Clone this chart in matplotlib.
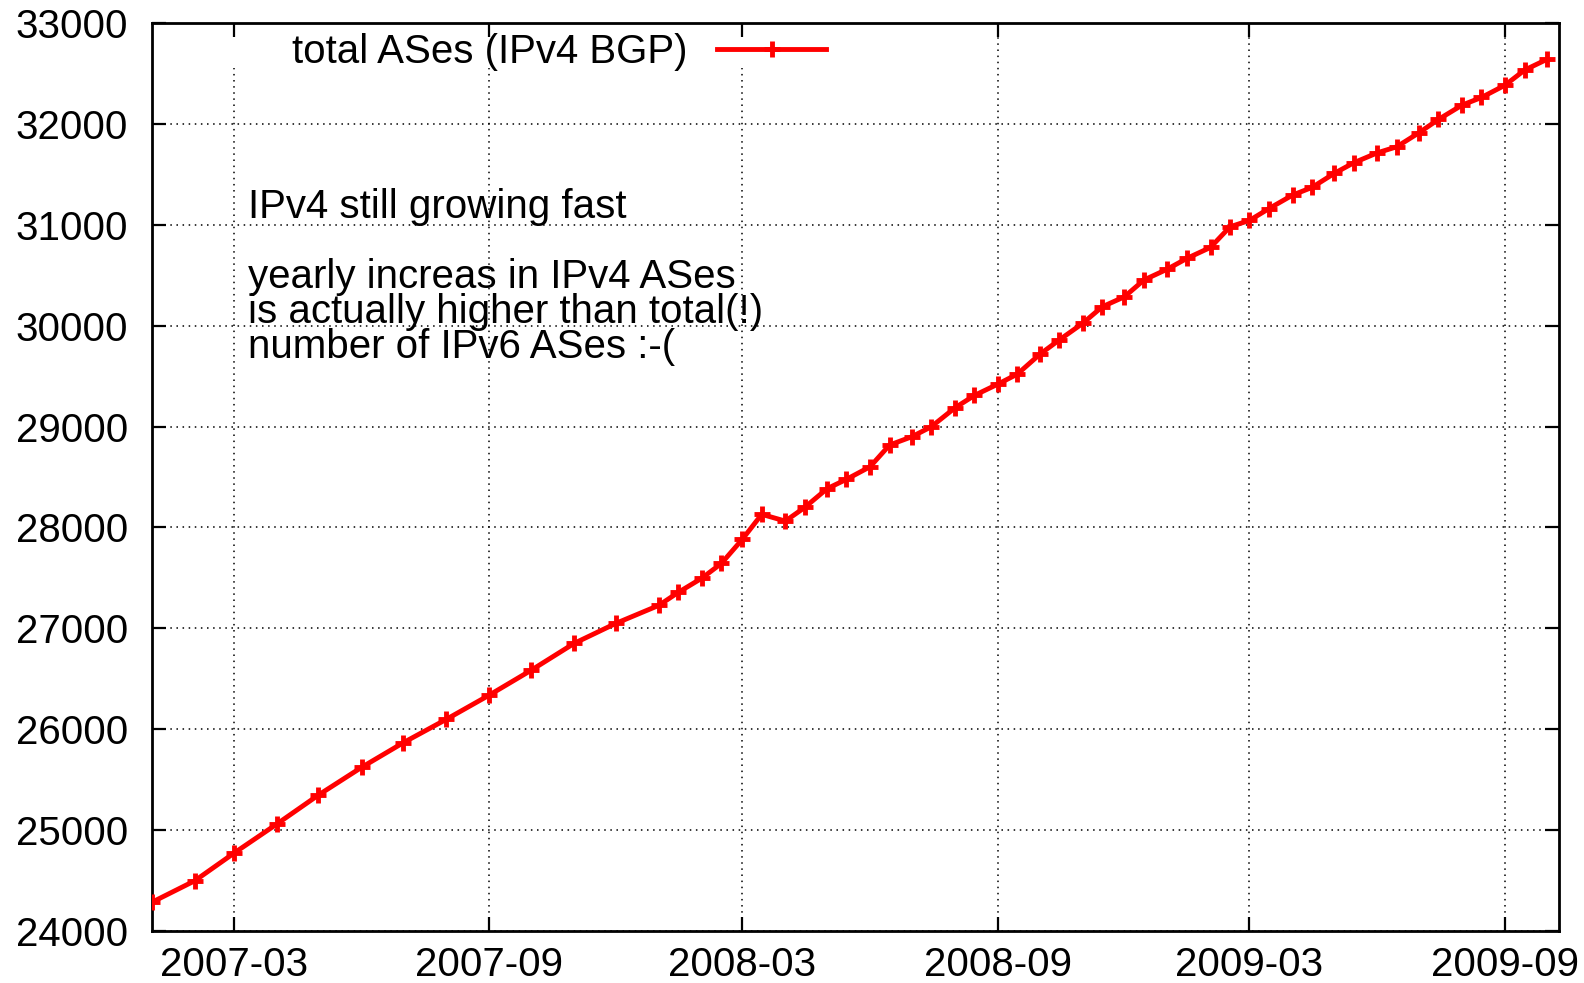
import matplotlib
matplotlib.use("Agg")
import matplotlib.pyplot as plt
import matplotlib.dates as mdates
from matplotlib.patches import Rectangle
import pandas as pd

# sample dates: monthly through 2008-01, then 1st and 15th of each month
dates = [
    "2007-01-01", "2007-02-01", "2007-03-01", "2007-04-01", "2007-05-01",
    "2007-06-01", "2007-07-01", "2007-08-01", "2007-09-01", "2007-10-01",
    "2007-11-01", "2007-12-01", "2008-01-01", "2008-01-15", "2008-02-01",
    "2008-02-15", "2008-03-01", "2008-03-15", "2008-04-01", "2008-04-15",
    "2008-05-01", "2008-05-15", "2008-06-01", "2008-06-15", "2008-07-01",
    "2008-07-15", "2008-08-01", "2008-08-15", "2008-09-01", "2008-09-15",
    "2008-10-01", "2008-10-15", "2008-11-01", "2008-11-15", "2008-12-01",
    "2008-12-15", "2009-01-01", "2009-01-15", "2009-02-01", "2009-02-15",
    "2009-03-01", "2009-03-15", "2009-04-01", "2009-04-15", "2009-05-01",
    "2009-05-15", "2009-06-01", "2009-06-15", "2009-07-01", "2009-07-15",
    "2009-08-01", "2009-08-15", "2009-09-01", "2009-09-15", "2009-10-01",
]
total_ases = [
    24284, 24498, 24770, 25060, 25348,
    25622, 25866, 26098, 26339, 26584,
    26851, 27049, 27228, 27357, 27498,
    27644, 27882, 28130, 28063, 28199,
    28384, 28477, 28602, 28817, 28899,
    28998, 29185, 29308, 29421, 29520,
    29715, 29857, 30023, 30187, 30286,
    30452, 30561, 30667, 30776, 30980,
    31043, 31160, 31294, 31370, 31509,
    31614, 31713, 31773, 31912, 32044,
    32186, 32262, 32384, 32533, 32639,
]
series_label = "total ASes (IPv4 BGP)"
note_lines = [
    "IPv4 still growing fast",
    "",
    "yearly increas in IPv4 ASes",
    "is actually higher than total(!)",
    "number of IPv6 ASes :-(",
]
y_ticks = list(range(24000, 33001, 1000))


def main():
    plt.rcParams["font.family"] = ["Liberation Sans", "DejaVu Sans"]
    fs = 29

    fig = plt.figure(figsize=(15.84, 9.83), dpi=100)
    ax = fig.add_axes([0.0958, 0.0529, 0.8886, 0.9237])
    ax.set_axisbelow(True)

    x = pd.to_datetime(dates)
    ax.plot(x, total_ases, color="#ff0000", lw=3.5, marker="+",
            ms=11, mew=3.5, label=series_label, zorder=3)

    ax.set_xlim(pd.Timestamp("2007-01-01"), pd.Timestamp("2009-10-10"))
    ax.set_ylim(24000, 33000)
    ax.set_yticks(y_ticks)
    ax.xaxis.set_major_locator(mdates.MonthLocator(bymonth=[3, 9]))
    ax.xaxis.set_major_formatter(mdates.DateFormatter("%Y-%m"))

    ax.tick_params(direction="in", length=10, width=1.6, top=True, right=True,
                   labelsize=fs, colors="black")
    ax.tick_params(axis="y", pad=17)
    ax.tick_params(axis="x", pad=11)
    for s in ax.spines.values():
        s.set_linewidth(2)

    ax.grid(True, color="black", linestyle=(0, (1, 3)), linewidth=1.1)

    # white key box hides the grid behind the legend, like gnuplot does
    ax.add_patch(Rectangle((0.045, 0.950), 0.437, 0.0345, transform=ax.transAxes,
                           facecolor="white", edgecolor="none", zorder=1))

    ax.legend(loc="center right", bbox_to_anchor=(826 / 1584, 1 - 52 / 983),
              bbox_transform=fig.transFigure, frameon=False, markerfirst=False,
              fontsize=fs, handlelength=2.7, handletextpad=0.75,
              borderpad=0, borderaxespad=0)

    ax.text(0.0684, 0.818, "\n".join(note_lines), transform=ax.transAxes,
            ha="left", va="top", fontsize=fs, linespacing=0.9)

    fig.savefig("out.png", dpi=100)
    plt.close(fig)


if __name__ == "__main__":
    main()
